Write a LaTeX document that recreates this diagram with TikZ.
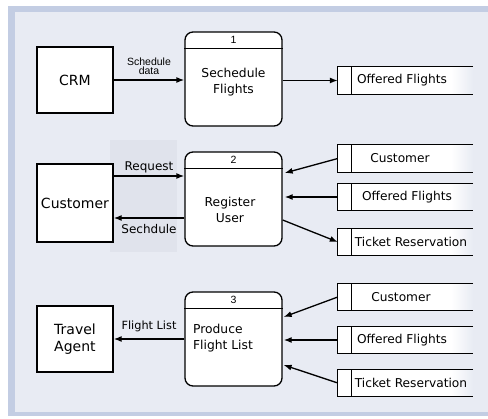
\documentclass[tikz,border=0pt]{standalone}
\usepackage{fontspec}
\setmainfont{DejaVu Sans}
\newfontfamily\arialfont{Liberation Sans}
\usepackage{xcolor}
\usepackage{tikz}
\usetikzlibrary{positioning, shapes, arrows.meta, backgrounds}
\definecolor{bgc}{HTML}{E8EBF3}
\definecolor{bandc}{HTML}{C3CDE3}
\definecolor{shadec}{HTML}{E0E3EC}
\tikzstyle{entity} = [rectangle, draw, fill=white, line width=1.3pt, minimum width=76pt, inner sep=0pt, font=\fontsize{14}{17}\selectfont]
\tikzstyle{proc} = [rectangle, draw, fill=white, line width=1.3pt, rounded corners=8pt, minimum width=97pt, minimum height=94pt, inner sep=0pt]
\tikzstyle{arrow} = [line width=1.3pt, -{Latex[length=8pt,width=6pt]}]

\begin{document}
\begin{tikzpicture}[x=1pt, y=-1pt,
    ptext/.style={align=center, font=\fontsize{12.3}{16}\selectfont},
    storebox/.style={rectangle, minimum width=135pt, minimum height=27pt, inner sep=0pt},
    storetext/.style={font=\fontsize{12.2}{14}\selectfont},
    flowlabel/.style={font=\fontsize{12}{14}\selectfont},
    numlabel/.style={font=\arialfont\fontsize{10.5}{11}\selectfont}
]
    \useasboundingbox (0,0) rectangle (488,419);

    % Frame and background
    \fill[bandc] (8,6) rectangle (488,416);
    \fill[bgc] (15,12) rectangle (488,412);
    \fill[shadec] (110,140) rectangle (177,252);

    % External entities
    \node[entity, minimum height=66pt] (crm) at (75,80) {CRM};
    \node[entity, minimum height=78pt] (cust) at (75,203) {Customer};
    \node[entity, minimum height=66pt, align=left] (agent) at (75,339) {Travel\\Agent};

    % Processes
    \node[proc] (p1) at (233.5,79) {};
    \node[proc] (p2) at (233.5,199) {};
    \node[proc] (p3) at (233.5,339) {};
    \foreach \p/\n in {p1/1, p2/2, p3/3} {
        \draw[line width=1.3pt] ([yshift=-17pt]\p.north west) -- ([yshift=-17pt]\p.north east);
        \node[numlabel] (\p num) at ([yshift=-8.5pt]\p.north) {\n};
    }
    \node[ptext] (p1t) at (233.5,82) {Sechedule\\Flights};
    \node[ptext] (p2t) at (230,210) {Register\\User};
    \node[ptext, align=left] (p3t) at (223,338) {Produce\\Flight List};

    % Data stores
    \node[storebox] (s1) at (405.5,80.5) {};
    \node[storebox] (s2a) at (405.5,158.5) {};
    \node[storebox] (s2b) at (405.5,197) {};
    \node[storebox] (s2c) at (405.5,242) {};
    \node[storebox] (s3a) at (405.5,297) {};
    \node[storebox] (s3b) at (405.5,340) {};
    \node[storebox] (s3c) at (405.5,383) {};
    \foreach \s in {s1, s2a, s2b, s2c, s3a, s3b, s3c} {
        \fill[white] (\s.north west) rectangle ([xshift=-22pt]\s.south east);
        \shade[left color=white, right color=bgc] ([xshift=-22pt]\s.north east) rectangle (\s.south east);
        \draw[line width=1.3pt] (\s.north east) -- (\s.north west) -- (\s.south west) -- (\s.south east);
        \draw[line width=1.3pt] ([xshift=14pt]\s.north west) -- ([xshift=14pt]\s.south west);
    }
    \node[storetext] (s1t) at (402,80.5) {Offered Flights};
    \node[storetext] (s2at) at (400,158.5) {Customer};
    \node[storetext] (s2bt) at (407,197) {Offered Flights};
    \node[storetext] (s2ct) at (411,242) {Ticket Reservation};
    \node[storetext] (s3at) at (401,297) {Customer};
    \node[storetext] (s3bt) at (402,340) {Offered Flights};
    \node[storetext] (s3ct) at (411,383) {Ticket Reservation};

    % Flows - row 1
    \draw[arrow] (crm.east) -- node[above, numlabel, align=center, font=\arialfont\fontsize{10.5}{9}\selectfont, yshift=1pt] {Schedule\\data} (crm.east -| p1.west);
    \draw[arrow] (p1.east |- s1.west) -- (s1.west);

    % Flows - row 2
    \draw[arrow] ([yshift=27pt]cust.east) -- node[above, flowlabel, yshift=-1pt] {Request} ([yshift=23pt]p2.west);
    \draw[arrow] ([yshift=-19pt]p2.west) -- node[below, flowlabel, yshift=-2pt] {Sechdule} ([yshift=-15pt]cust.east);
    \draw[arrow] (s2a.west) -- ([yshift=26pt, xshift=2pt]p2.east);
    \draw[arrow] (s2b.west) -- ([xshift=2pt]s2b.west -| p2.east);
    \draw[arrow] ([yshift=-21pt]p2.east) -- (s2c.west);

    % Flows - row 3
    \draw[arrow] (p3.west) -- node[above, flowlabel, font=\fontsize{11.3}{13}\selectfont, yshift=3pt] {Flight List} (agent.east);
    \draw[arrow] (s3a.west) -- ([yshift=22pt, xshift=1pt]p3.east);
    \draw[arrow] (s3b.west) -- ([xshift=1pt]s3b.west -| p3.east);
    \draw[arrow] (s3c.west) -- ([yshift=-26pt, xshift=1pt]p3.east);

\end{tikzpicture}
\end{document}
